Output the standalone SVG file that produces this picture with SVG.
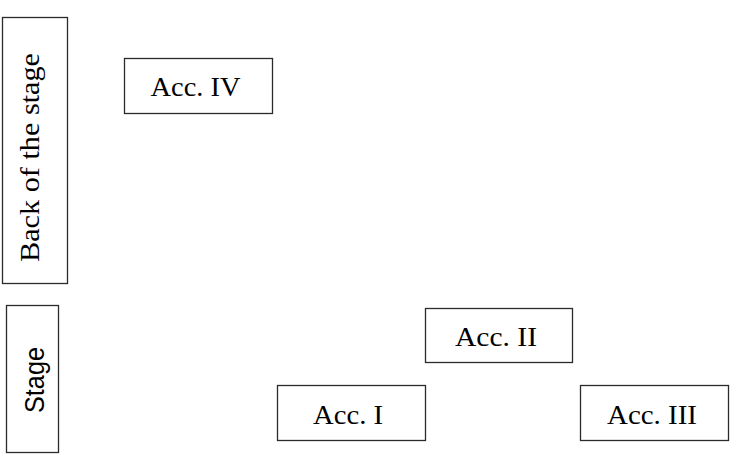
<svg xmlns="http://www.w3.org/2000/svg" width="731" height="454" viewBox="0 0 731 454">
<style>
.box{fill:#fff;stroke:#2b2b2b;stroke-width:1.3}
.serif{font-family:"Liberation Serif","DejaVu Serif",serif;font-size:28px;fill:#000}
.sans{font-family:"Liberation Sans","DejaVu Sans",sans-serif;font-size:27px;fill:#000}
</style>
<rect width="731" height="454" fill="#fff"/>
<g id="back-stage">
<rect class="box" x="2.5" y="17.5" width="65" height="266"/>
<text class="serif" transform="translate(38.5,157.5) rotate(-90)" text-anchor="middle" textLength="209" lengthAdjust="spacingAndGlyphs">Back of the stage</text>
</g>
<g id="stage">
<rect class="box" x="6.5" y="305.5" width="52" height="147"/>
<text class="sans" transform="translate(43.5,380) rotate(-90)" text-anchor="middle" textLength="66" lengthAdjust="spacingAndGlyphs">Stage</text>
</g>
<g id="acc4">
<rect class="box" x="124.5" y="58.5" width="148" height="55"/>
<text class="serif" x="195.5" y="96" text-anchor="middle" textLength="90" lengthAdjust="spacingAndGlyphs">Acc. IV</text>
</g>
<g id="acc2">
<rect class="box" x="425.5" y="308.5" width="147" height="54"/>
<text class="serif" x="496" y="345.5" text-anchor="middle" textLength="82" lengthAdjust="spacingAndGlyphs">Acc. II</text>
</g>
<g id="acc1">
<rect class="box" x="277.5" y="385.5" width="148" height="55"/>
<text class="serif" x="348" y="424" text-anchor="middle" textLength="70" lengthAdjust="spacingAndGlyphs">Acc. I</text>
</g>
<g id="acc3">
<rect class="box" x="580.5" y="385.5" width="148" height="55"/>
<text class="serif" x="652" y="423.5" text-anchor="middle" textLength="90" lengthAdjust="spacingAndGlyphs">Acc. III</text>
</g>
<g id="connectors"/>
</svg>
